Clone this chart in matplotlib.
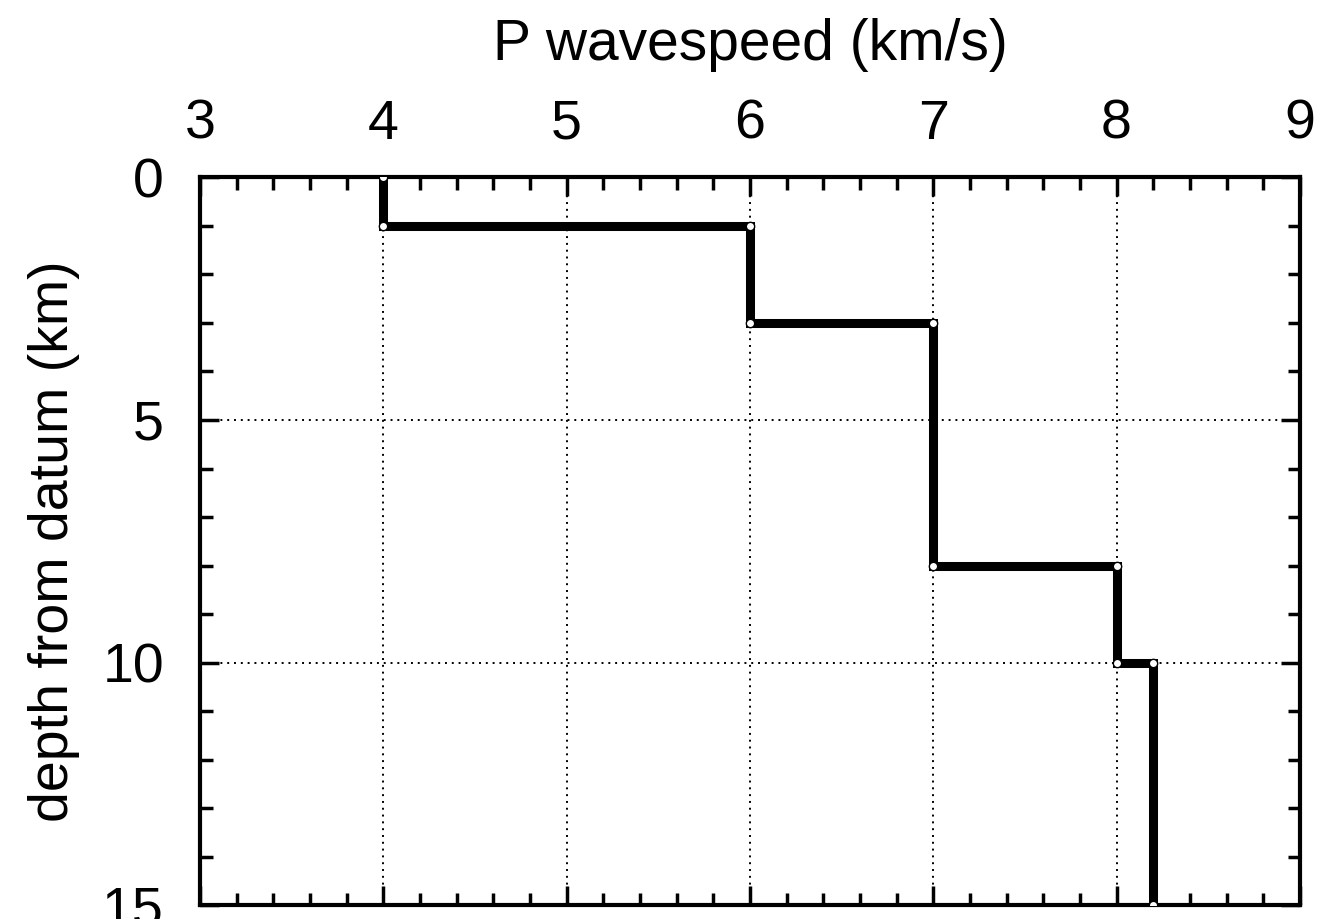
import matplotlib
matplotlib.use("Agg")
import matplotlib.pyplot as plt
from matplotlib.ticker import MultipleLocator

# velocity model: P wavespeed (km/s) and layer boundaries (km)
speed = [4.0, 4.0, 6.0, 6.0, 7.0, 7.0, 8.0, 8.0, 8.2, 8.2]
depth = [0.0, 1.0, 1.0, 3.0, 3.0, 8.0, 8.0, 10.0, 10.0, 15.0]

x_ticks = [3, 4, 5, 6, 7, 8, 9]
y_ticks = [0, 5, 10, 15]

plt.rcParams['font.family'] = ['Liberation Sans', 'DejaVu Sans']

fig = plt.figure(figsize=(13.25, 9.19), dpi=100)
ax = fig.add_axes([0.151, 0.015, 0.830, 0.792])

# dotted grid
for xv in x_ticks[1:-1]:
    ax.axvline(xv, color='black', linestyle=(0, (1, 2.5)), linewidth=1.4, zorder=1)
for yv in y_ticks[1:-1]:
    ax.axhline(yv, color='black', linestyle=(0, (1, 2.5)), linewidth=1.4, zorder=1)

ax.plot(speed, depth, color='black', linewidth=6.5, solid_joinstyle='miter', zorder=3)
ax.plot(speed, depth, linestyle='none', marker='o', markersize=6,
        markerfacecolor='white', markeredgecolor='black', markeredgewidth=1.0, zorder=4)

ax.set_xlim(3, 9)
ax.set_ylim(15, 0)
ax.set_xticks(x_ticks)
ax.set_yticks(y_ticks)
ax.xaxis.set_minor_locator(MultipleLocator(0.2))
ax.yaxis.set_minor_locator(MultipleLocator(1))

ax.xaxis.tick_top()
ax.xaxis.set_label_position('top')
ax.tick_params(which='both', direction='in', top=True, bottom=True, left=True, right=True,
               labeltop=True, labelbottom=False, labelleft=True, labelright=False)
ax.tick_params(which='major', length=14, width=2.5, labelsize=40)
ax.tick_params(axis='x', which='major', pad=19)
ax.tick_params(axis='y', which='major', pad=26)
ax.tick_params(which='minor', length=9, width=2.5)

for s in ax.spines.values():
    s.set_linewidth(3)

ax.set_xlabel('P wavespeed (km/s)', fontsize=41, labelpad=28)
ax.set_ylabel('depth from datum (km)', fontsize=40, labelpad=16)

fig.savefig('out.png', dpi=100)
